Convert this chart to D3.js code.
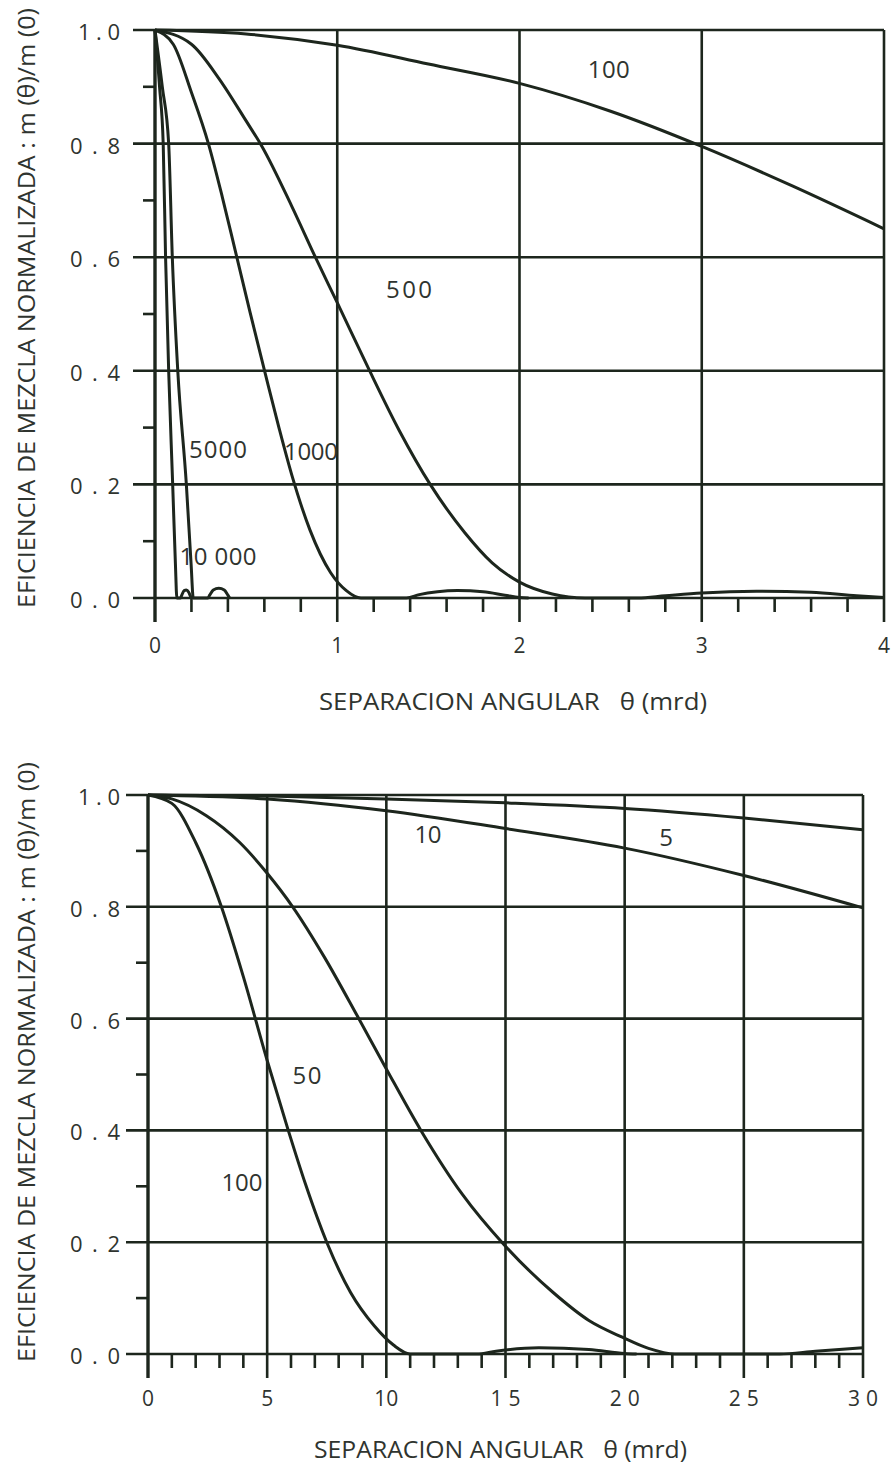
<!DOCTYPE html>
<html>
<head>
<meta charset="utf-8">
<title>Eficiencia de mezcla normalizada</title>
<script src="https://cdn.jsdelivr.net/npm/d3@7/dist/d3.min.js"></script>
<style>
	body { margin: 0; background: #fff; }
	svg text { font-family: 'Open Sans', 'DejaVu Sans', sans-serif; fill: #2f342f; white-space: pre; }
	.grid { stroke: #1d261d; stroke-width: 2.6px; fill: none; }
	.curve { stroke: #1d261d; stroke-width: 3px; fill: none; stroke-linejoin: round; }
</style>
</head>
<body>
<script>
	// ---- top panel: theta (mrd), m(theta)/m(0) ----
	var topXTicks = [0, 1, 2, 3, 4];
	var topYTicks = [0, 0.2, 0.4, 0.6, 0.8, 1.0];
	var topYLabels = ["0.0", "0.2", "0.4", "0.6", "0.8", "1.0"];

	var top100 = [[0,1],[0.5,0.993],[1,0.973],[1.5,0.94],[2,0.906],[2.5,0.857],[3,0.795],[3.5,0.725],[4,0.65]];
	var top500 = [[0,1],[0.2,0.975],[0.35,0.915],[0.5,0.84],[0.587,0.795],[0.75,0.69],[0.88,0.6],[1.0,0.52],[1.17,0.405],
		[1.34,0.295],[1.51,0.2],[1.7,0.115],[1.85,0.062],[2.0,0.028],[2.18,0.007],[2.36,0],[2.65,0],[2.8,0.004],
		[3.0,0.009],[3.3,0.012],[3.6,0.01],[3.85,0.004],[4.0,0.001]];
	var top1000 = [[0,1],[0.1,0.975],[0.2,0.89],[0.293,0.8],[0.37,0.705],[0.44,0.612],[0.52,0.505],[0.605,0.395],
		[0.68,0.3],[0.752,0.215],[0.85,0.12],[0.963,0.045],[1.05,0.013],[1.13,0],[1.38,0],[1.45,0.006],[1.55,0.011],
		[1.66,0.013],[1.8,0.011],[1.92,0.005],[2.0,0.001],[2.05,0]];
	var top5000 = [[0,1],[0.04,0.9],[0.075,0.8],[0.095,0.6],[0.125,0.4],[0.172,0.2],[0.198,0.06],[0.21,0],[0.29,0],
		[0.3,0.005],[0.32,0.014],[0.35,0.017],[0.38,0.014],[0.4,0.005],[0.41,0]];
	var top10000 = [[0,1],[0.025,0.9],[0.045,0.8],[0.058,0.6],[0.075,0.4],[0.097,0.2],[0.112,0.06],[0.12,0],[0.14,0],
		[0.148,0.006],[0.16,0.013],[0.172,0.014],[0.185,0.01],[0.195,0.003],[0.2,0]];

	var topCurveLabels = [
		{ text: "100", t: 2.49, m: 0.915, w: 42 },
		{ text: "500", t: 1.394, m: 0.528, w: 46 },
		{ text: "5000", t: 0.346, m: 0.246, w: 58 },
		{ text: "1000", t: 0.856, m: 0.243, w: 54 },
		{ text: "10 000", t: 0.346, m: 0.058, w: 77 }
	];

	// ---- bottom panel ----
	var botXTicks = [0, 5, 10, 15, 20, 25, 30];
	var botYTicks = [0, 0.2, 0.4, 0.6, 0.8, 1.0];
	var botYLabels = ["0.0", "0.2", "0.4", "0.6", "0.8", "1.0"];

	var bot5 = [[0,1],[5,0.998],[10,0.993],[15,0.986],[20,0.976],[25,0.959],[30,0.938]];
	var bot10 = [[0,1],[5,0.993],[10,0.972],[15,0.94],[20,0.905],[25,0.856],[30,0.798]];
	var bot50 = [[0,1],[1,0.993],[2.45,0.963],[3.85,0.915],[5,0.86],[6.07,0.8],[7.4,0.71],[8.78,0.605],[10,0.51],
		[11.45,0.4],[13.2,0.285],[14.95,0.195],[17,0.11],[18.5,0.06],[19.9,0.03],[21,0.01],[22.1,0],[26.5,0],
		[28,0.005],[30,0.011]];
	var bot100 = [[0,1],[1,0.985],[2,0.915],[3.08,0.8],[4.0,0.675],[5.0,0.525],[5.85,0.405],[6.6,0.305],[7.5,0.2],
		[8.5,0.11],[9.5,0.05],[10.3,0.016],[11,0],[13.8,0],[14.6,0.005],[16.4,0.011],[18.5,0.008],[20,0.001],[20.5,0]];

	var botCurveLabels = [
		{ text: "10", t: 11.75, m: 0.914, w: 27 },
		{ text: "5", t: 21.74, m: 0.909, w: 13 },
		{ text: "50", t: 6.67, m: 0.483, w: 29 },
		{ text: "100", t: 3.94, m: 0.292, w: 41 }
	];

	var yTitle = "EFICIENCIA DE MEZCLA NORMALIZADA : m (\u03b8)/m (0)";
	var xTitle = "SEPARACION ANGULAR   \u03b8 (mrd)";

	var width = 895, height = 1465;
	var svg = d3.select("body").append("svg")
		.attr("width", width)
		.attr("height", height);

	function drawPanel(p) {
		var x = d3.scaleLinear().domain(p.xDomain).range(p.xRange);
		var y = d3.scaleLinear().domain([0, 1]).range(p.yRange);
		var g = svg.append("g");
		var x0 = x(0), y0 = y(0), y1 = y(1), xr = x(p.xDomain[1]);

		// horizontal grid lines (major y ticks, with a stub left of the axis)
		g.selectAll(".hgrid").data(p.yTicks).enter().append("line")
			.attr("class", "grid")
			.attr("x1", x0 - 22).attr("x2", xr)
			.attr("y1", function(d) { return y(d); })
			.attr("y2", function(d) { return y(d); });

		// minor y ticks
		g.selectAll(".ymin").data(d3.range(0.1, 1, 0.2)).enter().append("line")
			.attr("class", "grid")
			.attr("x1", x0 - 12).attr("x2", x0)
			.attr("y1", function(d) { return y(d); })
			.attr("y2", function(d) { return y(d); });

		// vertical grid lines, extending below as major ticks
		g.selectAll(".vgrid").data(p.xTicks).enter().append("line")
			.attr("class", "grid")
			.style("stroke-width", function(d) { return d === 0 ? "3.4px" : null; })
			.attr("x1", function(d) { return x(d); })
			.attr("x2", function(d) { return x(d); })
			.attr("y1", y1).attr("y2", y0 + 24);

		// minor x ticks
		var step = p.minorStep;
		var minors = d3.range(step, p.xDomain[1], step).filter(function(v) {
			return p.xTicks.every(function(t) { return Math.abs(t - v) > step / 10; });
		});
		g.selectAll(".xmin").data(minors).enter().append("line")
			.attr("class", "grid")
			.attr("x1", function(d) { return x(d); })
			.attr("x2", function(d) { return x(d); })
			.attr("y1", y0).attr("y2", y0 + 14);

		// curves
		var line = d3.line()
			.x(function(d) { return x(d[0]); })
			.y(function(d) { return y(d[1]); })
			.curve(d3.curveMonotoneX);
		g.selectAll(".curve").data(p.series).enter().append("path")
			.attr("class", "curve")
			.attr("d", line);

		// curve labels
		g.selectAll(".clab").data(p.labels).enter().append("text")
			.attr("x", function(d) { return x(d.t); })
			.attr("y", function(d) { return y(d.m); })
			.attr("text-anchor", "middle")
			.attr("textLength", function(d) { return d.w; })
			.attr("lengthAdjust", "spacing")
			.style("font-size", "24px")
			.text(function(d) { return d.text; });

		// y tick labels
		g.selectAll(".ylab").data(p.yTicks).enter().append("text")
			.attr("x", x0 - p.yLabelGap)
			.attr("y", function(d) { return y(d) + 10; })
			.attr("text-anchor", "end")
			.attr("textLength", function(d, i) { return p.yLabels[i] === "1.0" ? 42 : 50; })
			.attr("lengthAdjust", "spacing")
			.style("font-size", "22px")
			.text(function(d, i) { return p.yLabels[i]; });

		// x tick labels
		g.selectAll(".xlab").data(p.xTicks).enter().append("text")
			.attr("x", function(d) { return x(d); })
			.attr("y", y0 + p.xLabelGap)
			.attr("text-anchor", "middle")
			.attr("textLength", function(d) { return d === 10 ? 24 : (d > 9 ? 30 : null); })
			.attr("lengthAdjust", "spacing")
			.style("font-size", "21px")
			.text(function(d) { return String(d); });

		// axis titles
		g.append("text")
			.attr("x", p.xTitleX).attr("y", p.xTitleY)
			.attr("textLength", p.xTitleW)
			.attr("lengthAdjust", "spacingAndGlyphs")
			.style("font-size", "23px")
			.text(xTitle);

		g.append("text")
			.attr("transform", "translate(" + p.yTitleX + "," + p.yTitleY + ") rotate(-90)")
			.attr("text-anchor", "middle")
			.attr("textLength", 600)
			.attr("lengthAdjust", "spacingAndGlyphs")
			.style("font-size", "24px")
			.text(yTitle);
	}

	drawPanel({
		xDomain: [0, 4], xRange: [155, 884], yRange: [598, 30],
		xTicks: topXTicks, yTicks: topYTicks, yLabels: topYLabels, minorStep: 0.2,
		series: [top100, top500, top1000, top5000, top10000], labels: topCurveLabels,
		yLabelGap: 35, xLabelGap: 55,
		xTitleX: 319, xTitleY: 710, xTitleW: 388,
		yTitleX: 35, yTitleY: 308
	});

	drawPanel({
		xDomain: [0, 30], xRange: [148, 863], yRange: [1354, 795],
		xTicks: botXTicks, yTicks: botYTicks, yLabels: botYLabels, minorStep: 1,
		series: [bot5, bot10, bot50, bot100], labels: botCurveLabels,
		yLabelGap: 28, xLabelGap: 52,
		xTitleX: 314, xTitleY: 1458, xTitleW: 373,
		yTitleX: 35, yTitleY: 1062
	});
</script>
</body>
</html>
